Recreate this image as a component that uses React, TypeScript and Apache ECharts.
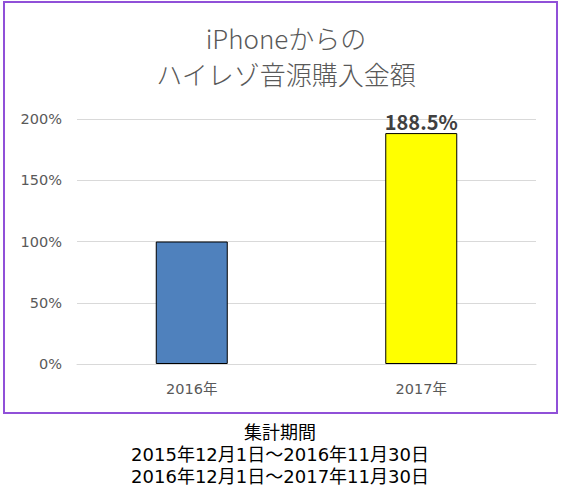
import React, { useEffect, useRef } from "react";
import * as echarts from "echarts";

const categories = ["2016年", "2017年"];
const values = [100, 188.5];
const barColors = ["#4F81BD", "#FFFF00"];
const titleLines = ["iPhoneからの", "ハイレゾ音源購入金額"];
const noteLines = ["集計期間", "2015年12月1日～2016年11月30日", "2016年12月1日～2017年11月30日"];

const JP = "'Noto Sans CJK JP', 'Noto Sans', sans-serif";
const WIDE = "'DejaVu Sans', 'Noto Sans CJK JP', sans-serif";

export default function App() {
  const ref = useRef<HTMLDivElement>(null);
  useEffect(() => {
    if (!ref.current) return;
    const chart = echarts.init(ref.current, undefined, { renderer: "svg" });
    chart.setOption({
      animation: false,
      backgroundColor: "#ffffff",
      title: {
        text: titleLines.join("\n"),
        left: 281,
        textAlign: "center",
        top: 14,
        textStyle: {
          fontFamily: JP,
          fontSize: 26,
          fontWeight: 300,
          lineHeight: 36,
          color: "#595959",
        },
      },
      grid: { left: 77, right: 25, top: 119, bottom: 132 },
      xAxis: {
        type: "category",
        data: categories,
        axisLine: { lineStyle: { color: "#D9D9D9" } },
        axisTick: { show: false },
        axisLabel: { color: "#595959", fontSize: 14.5, fontFamily: WIDE, margin: 18 },
      },
      yAxis: {
        type: "value",
        min: 0,
        max: 200,
        interval: 50,
        axisLabel: { formatter: "{value}%", color: "#595959", fontSize: 14.5, fontFamily: WIDE, margin: 15 },
        splitLine: { lineStyle: { color: "#D9D9D9" } },
        axisLine: { show: false },
        axisTick: { show: false },
      },
      series: [
        {
          type: "bar",
          barWidth: 72,
          data: values.map((v, i) => ({
            value: v,
            itemStyle: { color: barColors[i], borderColor: "#000000", borderWidth: 1 },
            label:
              i === 1
                ? {
                    show: true,
                    position: "top",
                    distance: 2,
                    formatter: "{c}%",
                    fontSize: 20,
                    fontWeight: "bold",
                    color: "#404040",
                    fontFamily: JP,
                  }
                : { show: false },
          })),
        },
      ],
      graphic: [
        {
          type: "rect",
          shape: { x: 4, y: 2, width: 553, height: 411 },
          style: { fill: "none", stroke: "#9050D8", lineWidth: 2 },
          silent: true,
        },
        {
          type: "text",
          x: 280,
          y: 421,
          style: {
            text: noteLines.join("\n"),
            fill: "#000000",
            fontSize: 18,
            lineHeight: 22,
            fontFamily: WIDE,
            align: "center",
            verticalAlign: "top",
          },
        },
      ],
    });
    return () => chart.dispose();
  }, []);
  return (
    <div
      ref={ref}
      style={{ position: "fixed", left: 0, top: 0, width: 561, height: 496 }}
    />
  );
}
